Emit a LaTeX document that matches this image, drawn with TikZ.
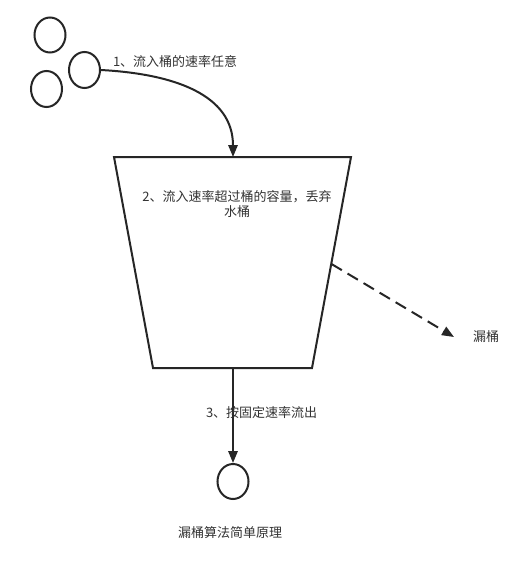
\documentclass[tikz,border=0pt]{standalone}
\usepackage{fontspec}
\setmainfont{Noto Sans CJK SC}
\usetikzlibrary{arrows.meta,shapes.geometric}
\definecolor{ink}{HTML}{262626}
\definecolor{txt}{HTML}{333333}
\begin{document}
\begin{tikzpicture}[x=0.75pt,y=-0.75pt,
  line width=1.5pt,
  ball/.style={draw=ink,ellipse,inner sep=0pt,minimum width=23.25pt,minimum height=26.25pt},
  bucket/.style={draw=ink,trapezium,trapezium stretches=true,shape border rotate=180,
    minimum width=177.75pt,minimum height=158.25pt,trapezium left angle=79.6,trapezium right angle=79.6,inner sep=0pt},
  lbl/.style={text=txt,font=\fontsize{9.75pt}{11.25pt}\selectfont,inner sep=0pt},
  arr/.style={draw=ink,-{Stealth[length=9pt,width=7pt,inset=0pt]}}]
\useasboundingbox (0,0) rectangle (526,571);
\fill[white] (0,0) rectangle (526,571);
% balls
\node[ball] (b1) at (50,35) {};
\node[ball,minimum height=27pt] (b2) at (84.5,70) {};
\node[ball,minimum height=27pt] (b3) at (46.5,89) {};
% bucket
\coordinate (tl) at (114,157);
\coordinate (tr) at (351,157);
\coordinate (br) at (312,368);
\coordinate (bl) at (153,368);
\draw[ink,line join=miter] (tl) -- (tr) -- (br) -- (bl) -- cycle;
\coordinate (top) at (233,157);
\coordinate (bot) at (233,368);
\coordinate (side) at (331.5,264);
\coordinate (leak) at (454,337);
% out ball
\node[ball] (out) at (233,481.5) {};
% connectors
\draw[arr] (b2.east) .. controls (175,74) and (233,95) .. (top);
\draw[arr,dashed,dash pattern=on 9pt off 5pt] (side) -- (leak);
\draw[arr] (bot) -- (out.north);
% labels
\node[lbl,anchor=west] (l1) at (112,62) {1、流入桶的速率任意};
\node[lbl,align=center] (l2) at (237,204.5) {2、流入速率超过桶的容量，丢弃\\水桶};
\node[lbl,anchor=west] (l3) at (472,337) {漏桶};
\node[lbl,anchor=west] (l4) at (205,413) {3、按固定速率流出};
\node[lbl] (l5) at (230,533) {漏桶算法简单原理};
\end{tikzpicture}
\end{document}
